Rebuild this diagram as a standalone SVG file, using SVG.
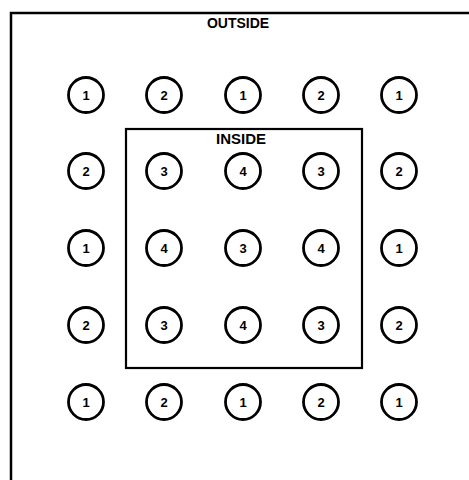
<svg xmlns="http://www.w3.org/2000/svg" width="469" height="480" viewBox="0 0 469 480">
<style>
.frame{fill:none;stroke:#000;stroke-width:2.5}
.box{fill:none;stroke:#000;stroke-width:2.2}
.c{fill:#fff;stroke:#000;stroke-width:2.8}
.n{font-family:"Liberation Sans",Arial,sans-serif;font-weight:bold;font-size:13px;text-anchor:middle;fill:#000}
.lbl{font-family:"Liberation Sans",Arial,sans-serif;font-weight:bold;font-size:14px;text-anchor:middle;fill:#000}
</style>
<rect width="469" height="480" fill="#fff"/>
<g id="outside">
<path class="frame" d="M11,480 V13 H469"/>
<text class="lbl" x="238" y="28">OUTSIDE</text>
</g>
<g id="inside">
<rect class="box" x="126" y="129" width="236" height="239"/>
<text class="lbl" x="241" y="144" textLength="50" lengthAdjust="spacingAndGlyphs">INSIDE</text>
</g>
<g id="connectors"></g>
<g id="r1c1"><circle class="c" cx="86" cy="95" r="17.5"/><text class="n" x="86" y="99.7">1</text></g>
<g id="r1c2"><circle class="c" cx="164" cy="95" r="17.5"/><text class="n" x="164" y="99.7">2</text></g>
<g id="r1c3"><circle class="c" cx="243" cy="95" r="17.5"/><text class="n" x="243" y="99.7">1</text></g>
<g id="r1c4"><circle class="c" cx="321" cy="95" r="17.5"/><text class="n" x="321" y="99.7">2</text></g>
<g id="r1c5"><circle class="c" cx="399" cy="95" r="17.5"/><text class="n" x="399" y="99.7">1</text></g>
<g id="r2c1"><circle class="c" cx="86" cy="171" r="17.5"/><text class="n" x="86" y="175.7">2</text></g>
<g id="r2c2"><circle class="c" cx="164" cy="171" r="17.5"/><text class="n" x="164" y="175.7">3</text></g>
<g id="r2c3"><circle class="c" cx="243" cy="171" r="17.5"/><text class="n" x="243" y="175.7">4</text></g>
<g id="r2c4"><circle class="c" cx="321" cy="171" r="17.5"/><text class="n" x="321" y="175.7">3</text></g>
<g id="r2c5"><circle class="c" cx="399" cy="171" r="17.5"/><text class="n" x="399" y="175.7">2</text></g>
<g id="r3c1"><circle class="c" cx="86" cy="248" r="17.5"/><text class="n" x="86" y="252.7">1</text></g>
<g id="r3c2"><circle class="c" cx="164" cy="248" r="17.5"/><text class="n" x="164" y="252.7">4</text></g>
<g id="r3c3"><circle class="c" cx="243" cy="248" r="17.5"/><text class="n" x="243" y="252.7">3</text></g>
<g id="r3c4"><circle class="c" cx="321" cy="248" r="17.5"/><text class="n" x="321" y="252.7">4</text></g>
<g id="r3c5"><circle class="c" cx="399" cy="248" r="17.5"/><text class="n" x="399" y="252.7">1</text></g>
<g id="r4c1"><circle class="c" cx="86" cy="325" r="17.5"/><text class="n" x="86" y="329.7">2</text></g>
<g id="r4c2"><circle class="c" cx="164" cy="325" r="17.5"/><text class="n" x="164" y="329.7">3</text></g>
<g id="r4c3"><circle class="c" cx="243" cy="325" r="17.5"/><text class="n" x="243" y="329.7">4</text></g>
<g id="r4c4"><circle class="c" cx="321" cy="325" r="17.5"/><text class="n" x="321" y="329.7">3</text></g>
<g id="r4c5"><circle class="c" cx="399" cy="325" r="17.5"/><text class="n" x="399" y="329.7">2</text></g>
<g id="r5c1"><circle class="c" cx="86" cy="402" r="17.5"/><text class="n" x="86" y="406.7">1</text></g>
<g id="r5c2"><circle class="c" cx="164" cy="402" r="17.5"/><text class="n" x="164" y="406.7">2</text></g>
<g id="r5c3"><circle class="c" cx="243" cy="402" r="17.5"/><text class="n" x="243" y="406.7">1</text></g>
<g id="r5c4"><circle class="c" cx="321" cy="402" r="17.5"/><text class="n" x="321" y="406.7">2</text></g>
<g id="r5c5"><circle class="c" cx="399" cy="402" r="17.5"/><text class="n" x="399" y="406.7">1</text></g>
</svg>
